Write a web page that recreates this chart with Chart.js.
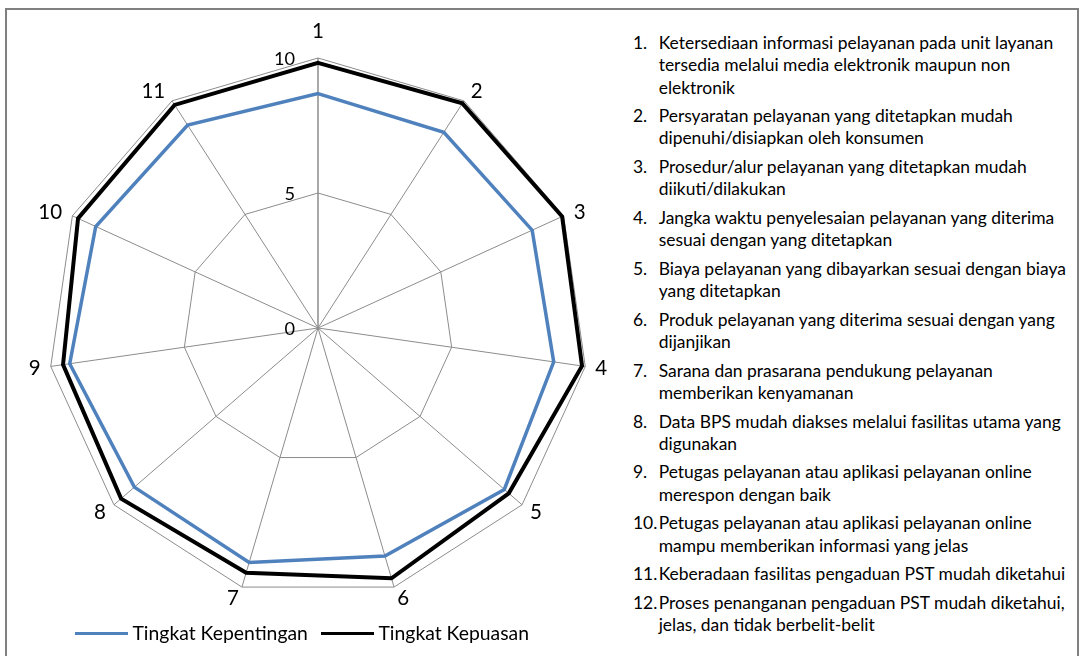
<!DOCTYPE html>
<html>
<head>
<meta charset="utf-8">
<script src="https://cdn.jsdelivr.net/npm/chart.js@4.4.1/dist/chart.umd.min.js"></script>
<style>
  html, body { margin: 0; padding: 0; background: #fff; }
  body { width: 1082px; height: 656px; position: relative; overflow: hidden; font-family: Lato, "Noto Sans", sans-serif; color: #000; }
  #frame { position: absolute; left: 5px; top: 8px; width: 1074px; height: 660px; border: 2px solid #808080; box-sizing: border-box; }
  #c { position: absolute; left: 0; top: 0; }
  #list { position: absolute; left: 633px; top: 32px; white-space: nowrap; }
  .item { display: flex; }
  .num { width: 25.7px; flex: none; }
  .leg-line { position: absolute; height: 3.5px; }
  .leg-text { position: absolute; white-space: nowrap; }
</style>
</head>
<body>
<div id="frame"></div>
<canvas id="c" width="620" height="656"></canvas>
<div id="list"></div>
<div id="legend"></div>
<script>
// ---- data ----
const axisLabels = ['1','2','3','4','5','6','7','8','9','10','11'];
const seriesNames = ['Tingkat Kepentingan', 'Tingkat Kepuasan'];
const kepentingan = [8.68, 8.62, 8.72, 8.82, 9.13, 8.80, 9.05, 9.00, 9.29, 9.05, 8.93];
const kepuasan    = [9.82, 9.89, 9.94, 9.88, 9.35, 9.66, 9.45, 9.65, 9.54, 9.77, 9.82];
const radialTicks = [0, 5, 10];
const listItems = [
  ['Ketersediaan informasi pelayanan pada unit layanan', 'tersedia melalui media elektronik maupun non', 'elektronik'],
  ['Persyaratan pelayanan yang ditetapkan mudah', 'dipenuhi/disiapkan oleh konsumen'],
  ['Prosedur/alur pelayanan yang ditetapkan mudah', 'diikuti/dilakukan'],
  ['Jangka waktu penyelesaian pelayanan yang diterima', 'sesuai dengan yang ditetapkan'],
  ['Biaya pelayanan yang dibayarkan sesuai dengan biaya', 'yang ditetapkan'],
  ['Produk pelayanan yang diterima sesuai dengan yang', 'dijanjikan'],
  ['Sarana dan prasarana pendukung pelayanan', 'memberikan kenyamanan'],
  ['Data BPS mudah diakses melalui fasilitas utama yang', 'digunakan'],
  ['Petugas pelayanan atau aplikasi pelayanan online', 'merespon dengan baik'],
  ['Petugas pelayanan atau aplikasi pelayanan online', 'mampu memberikan informasi yang jelas'],
  ['Keberadaan fasilitas pengaduan PST mudah diketahui'],
  ['Proses penanganan pengaduan PST mudah diketahui,', 'jelas, dan tidak berbelit-belit']
];
const seriesColors = ['#4F81BD', '#000000'];

// ---- font sizing (Lato substitutes Calibri) ----
const FONT = 'Lato';
const mctx = document.createElement('canvas').getContext('2d');
mctx.font = '18px ' + FONT;
const refW = mctx.measureText(listItems[0][0]).width;
const textSize = 18 * 395 / refW;          // list text size
const legW = mctx.measureText(seriesNames[0]).width;
const legendSize = 18 * 175.4 / legW;      // legend text size
const k = textSize / 18.7;                 // Calibri -> Lato factor
const ptSize = 22 * k;
const tickSize = 19.5 * k;
const CAP = 0.36;

// ---- list ----
const LH = 22.3, GAP = 6.3;
const list = document.getElementById('list');
list.style.fontSize = textSize + 'px';
list.style.lineHeight = LH + 'px';
listItems.forEach((lines, i) => {
  const it = document.createElement('div');
  it.className = 'item';
  it.style.marginBottom = GAP + 'px';
  const n = document.createElement('div');
  n.className = 'num';
  n.textContent = (i + 1) + '.';
  const t = document.createElement('div');
  t.innerHTML = lines.join('<br>');
  it.appendChild(n); it.appendChild(t);
  list.appendChild(it);
});

// ---- legend ----
const legend = document.getElementById('legend');
const legX = [[75, 132.5], [321, 378.5]];
seriesNames.forEach((name, i) => {
  const l = document.createElement('div');
  l.className = 'leg-line';
  l.style.left = legX[i][0] + 'px';
  l.style.width = '53px';
  l.style.top = (633.3 - 1.75) + 'px';
  l.style.background = seriesColors[i];
  const t = document.createElement('div');
  t.className = 'leg-text';
  t.textContent = name;
  t.style.left = legX[i][1] + 'px';
  t.style.fontSize = legendSize + 'px';
  t.style.lineHeight = '24px';
  t.style.top = (633 - 12 - 0.5) + 'px';
  legend.appendChild(l); legend.appendChild(t);
});

// ---- labels plugin ----
const labelPlugin = {
  id: 'customLabels',
  afterDraw(chart) {
    const s = chart.scales.r;
    const c = chart.ctx;
    c.save();
    c.fillStyle = '#000';
    c.textBaseline = 'alphabetic';
    c.font = tickSize + 'px ' + FONT;
    c.textAlign = 'right';
    s.ticks.forEach(t => {
      const y = s.yCenter - s.getDistanceFromCenterForValue(t.value);
      c.fillText(String(t.value), s.xCenter - 23, y + CAP * tickSize);
    });
    c.font = ptSize + 'px ' + FONT;
    chart.data.labels.forEach((lab, i) => {
      const a = s.getIndexAngle(i);
      const sn = Math.sin(a), cs = Math.cos(a);
      let d = s.drawingArea + 10 + (cs > 0 ? 3 * cs : Math.abs(cs));
      if (Math.abs(sn) < 1e-6 && cs > 0) d += 14.5; // clear the top tick label
      const p = s.getPointPosition(i, d);
      c.textAlign = Math.abs(sn) < 1e-6 ? 'center' : (sn > 0 ? 'left' : 'right');
      c.fillText(lab, p.x, p.y + CAP * ptSize);
    });
    c.restore();
  }
};

new Chart(document.getElementById('c'), {
  type: 'radar',
  data: {
    labels: axisLabels,
    datasets: [
      { label: seriesNames[0], data: kepentingan, borderColor: seriesColors[0], borderWidth: 3.5, fill: false, pointRadius: 0, pointHoverRadius: 0 },
      { label: seriesNames[1], data: kepuasan, borderColor: seriesColors[1], borderWidth: 4, fill: false, pointRadius: 0, pointHoverRadius: 0 }
    ]
  },
  options: {
    responsive: false,
    animation: false,
    layout: { padding: { left: 48, right: 32, top: 58, bottom: 58 } },
    elements: { line: { borderJoinStyle: 'miter', tension: 0 } },
    plugins: { legend: { display: false }, tooltip: { enabled: false } },
    scales: {
      r: {
        min: 0, max: 10,
        afterBuildTicks: sc => { sc.ticks = radialTicks.map(v => ({ value: v })); },
        ticks: { display: false },
        pointLabels: { display: false },
        grid: { color: '#8c8c8c', lineWidth: 1, circular: false },
        angleLines: { color: '#8c8c8c', lineWidth: ctx => ctx.index === 0 ? 1.5 : 1 }
      }
    }
  },
  plugins: [labelPlugin]
});
</script>
</body>
</html>
